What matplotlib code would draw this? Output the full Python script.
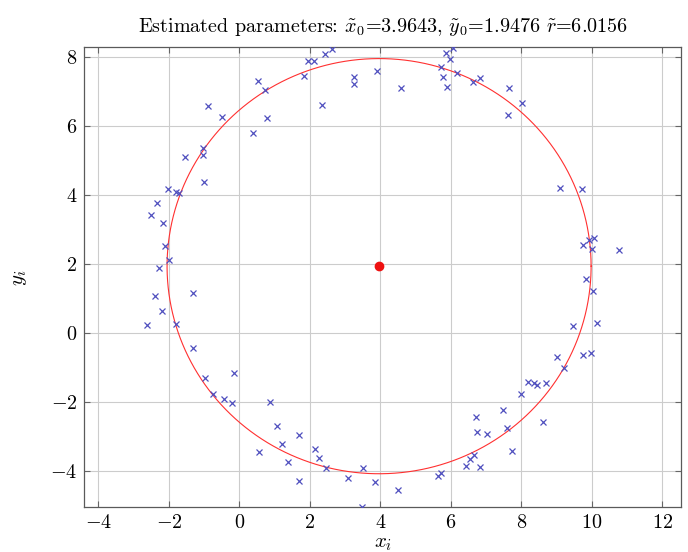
"""Circle fit result: noisy sample points and the estimated circle."""
import numpy as np
import matplotlib
matplotlib.use("Agg")
import matplotlib.pyplot as plt

plt.rcParams["font.family"] = "serif"
plt.rcParams["font.serif"] = ["cmr10"]
plt.rcParams["mathtext.fontset"] = "cm"
plt.rcParams["axes.formatter.use_mathtext"] = True

# estimated circle parameters
X0, Y0, R = 3.9643, 1.9476, 6.0156

# sample points
xs = [2.62, 2.43, 1.96, 2.11, 1.84, 3.25, 3.25, 3.91, 0.52, 0.73, 2.35, -0.89,
      -0.48, 0.79, 0.38, -1.03, -1.03, -1.53, -1.00, -2.02, -1.79, -1.72, -2.35,
      -2.50, -2.16, -2.12, -2.00, -2.27,
      6.07, 5.86, 5.98, 5.73, 6.18, 5.78, 5.89, 6.63, 6.82, 4.59, 7.66, 8.03,
      7.61, 9.11, 9.71, 9.91, 10.05, 9.75, 10.00, 10.77, 9.84,
      -2.40, -1.32, -2.19, -2.61, -1.80, -1.32, -0.15, -0.98, -0.75, -0.43,
      -0.22, 0.88, 1.07, 1.69, 1.20, 0.55, 2.16, 2.27, 1.39, 2.46, 3.51, 3.08,
      1.69, 3.85, 3.47,
      10.03, 10.14, 9.48, 9.76, 9.97, 9.01, 9.20, 8.20, 8.36, 8.45, 8.70, 7.99,
      7.48, 6.72, 8.62, 7.60, 6.73, 7.04, 7.74, 6.65, 6.54, 6.44, 6.83, 5.72,
      5.64, 4.49]
ys = [8.24, 8.09, 7.90, 7.90, 7.47, 7.44, 7.22, 7.61, 7.32, 7.05, 6.62, 6.60,
      6.28, 6.25, 5.81, 5.38, 5.17, 5.10, 4.39, 4.17, 4.09, 4.07, 3.79, 3.42,
      3.21, 2.54, 2.13, 1.89,
      8.28, 8.13, 7.95, 7.72, 7.54, 7.42, 7.14, 7.29, 7.39, 7.12, 7.10, 6.68,
      6.32, 4.21, 4.19, 2.70, 2.75, 2.57, 2.44, 2.42, 1.59,
      1.09, 1.16, 0.66, 0.24, 0.26, -0.42, -1.15, -1.30, -1.76, -1.89, -2.01,
      -1.98, -2.67, -2.95, -3.21, -3.43, -3.35, -3.61, -3.72, -3.90, -3.90,
      -4.20, -4.29, -4.32, -5.02,
      1.23, 0.30, 0.22, -0.63, -0.56, -0.68, -1.00, -1.40, -1.45, -1.50, -1.43,
      -1.76, -2.22, -2.41, -2.58, -2.75, -2.86, -2.92, -3.41, -3.53, -3.64,
      -3.85, -3.88, -4.06, -4.13, -4.55]

fig = plt.figure(figsize=(6.88, 5.52), dpi=100)
ax = fig.add_axes([0.1225, 0.081, 0.8673, 0.8333])

t = np.linspace(0, 2 * np.pi, 400)
ax.plot(xs, ys, "x", color="#4f4fbf", ms=5, mew=0.9, zorder=3)
ax.plot(X0 + R * np.cos(t), Y0 + R * np.sin(t), color="#ff3030", lw=0.8, zorder=2)
ax.plot([X0], [Y0], "o", color="#ee1111", ms=6, zorder=4)

ax.set_xlim(-4.40, 12.53)
ax.set_ylim(-5.04, 8.29)
ax.set_xticks(np.arange(-4, 13, 2))
ax.set_yticks(np.arange(-4, 9, 2))
ax.grid(True, color="#cccccc", lw=0.8)
ax.set_axisbelow(True)
ax.tick_params(direction="in", top=True, right=True, length=4, color="#666666",
               labelsize=14.5, pad=5)
for s in ax.spines.values():
    s.set_color("#5a5a5a")
    s.set_linewidth(0.9)

ax.set_xlabel(r"$x_i$", fontsize=15, labelpad=2)
ax.set_ylabel(r"$y_i$", fontsize=15, labelpad=15)
ax.set_title(r"Estimated parameters: $\tilde{x}_0$=3.9643, $\tilde{y}_0$=1.9476 $\tilde{r}$=6.0156",
             fontsize=14.5, pad=11)

fig.savefig("out.png", dpi=100, facecolor="white")
plt.close(fig)
